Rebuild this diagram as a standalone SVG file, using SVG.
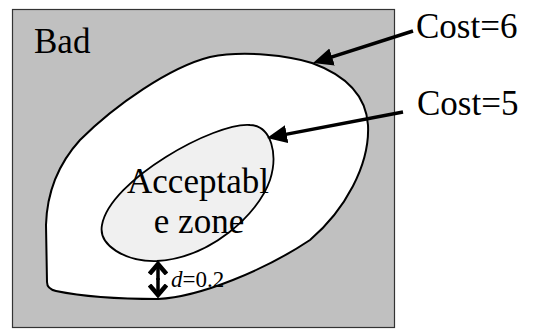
<svg xmlns="http://www.w3.org/2000/svg" width="535" height="329" viewBox="0 0 535 329">
<style>
text{font-family:"Liberation Serif","Times New Roman",serif;fill:#000}
.big{font-size:35px}
.small{font-size:23px}
.region{stroke:#000;stroke-linejoin:round}
.conn{stroke:#000;stroke-width:3.5;fill:none}
</style>
<defs>
<marker id="tri" viewBox="0 0 20 20" markerWidth="20" markerHeight="20" refX="9" refY="10" orient="auto" markerUnits="userSpaceOnUse">
<path d="M0,1 L20,10 L0,19 z" fill="#000"/>
</marker>
<marker id="chev" viewBox="0 0 14 20" markerWidth="14" markerHeight="20" refX="11" refY="10" orient="auto" markerUnits="userSpaceOnUse">
<path d="M1,1.5 L11,10 L1,18.5" fill="none" stroke="#000" stroke-width="4.5"/>
</marker>
</defs>
<rect width="535" height="329" fill="#fff"/>
<g id="bad">
<rect x="12.5" y="9.5" width="382" height="318" fill="#c0c0c0" stroke="#333" stroke-width="1.2"/>
<text class="big" x="34" y="53">Bad</text>
</g>
<g id="cost6">
<path class="region" fill="#fff" stroke-width="2" d="M158,299 C200,297 265,270 310,240 C345,210 370,165 368,125 C366,95 345,75 312,63 C290,56 245,50 210,57 C170,67 115,105 80,140 C60,162 47,190 46,225 L47,282 Q47,289 56,291 C80,296 120,299 158,299 Z"/>
</g>
<g id="cost5">
<path class="region" fill="#f0f0f0" stroke-width="1.8" d="M157,261 C210,258 258,215 270,180 C278,155 272,126 250,125 C215,122 110,180 102,225 C98,245 125,262 157,261 Z"/>
<text class="big" x="198" y="193" text-anchor="middle">Acceptabl</text>
<text class="big" x="199" y="233" text-anchor="middle">e zone</text>
</g>
<g id="labels">
<text class="big" x="416" y="38">Cost=6</text>
<text class="big" x="417" y="115">Cost=5</text>
<text class="small" x="171" y="287"><tspan font-style="italic">d</tspan>=0.2</text>
</g>
<g id="connectors">
<line class="conn" x1="413" y1="31" x2="323.5" y2="59.7" marker-end="url(#tri)"/>
<line class="conn" x1="403" y1="112" x2="277.8" y2="135.9" marker-end="url(#tri)"/>
<line class="conn" x1="158" y1="278" x2="158" y2="295" marker-end="url(#chev)"/>
<line class="conn" x1="158" y1="280" x2="158" y2="264" marker-end="url(#chev)"/>
</g>
</svg>
